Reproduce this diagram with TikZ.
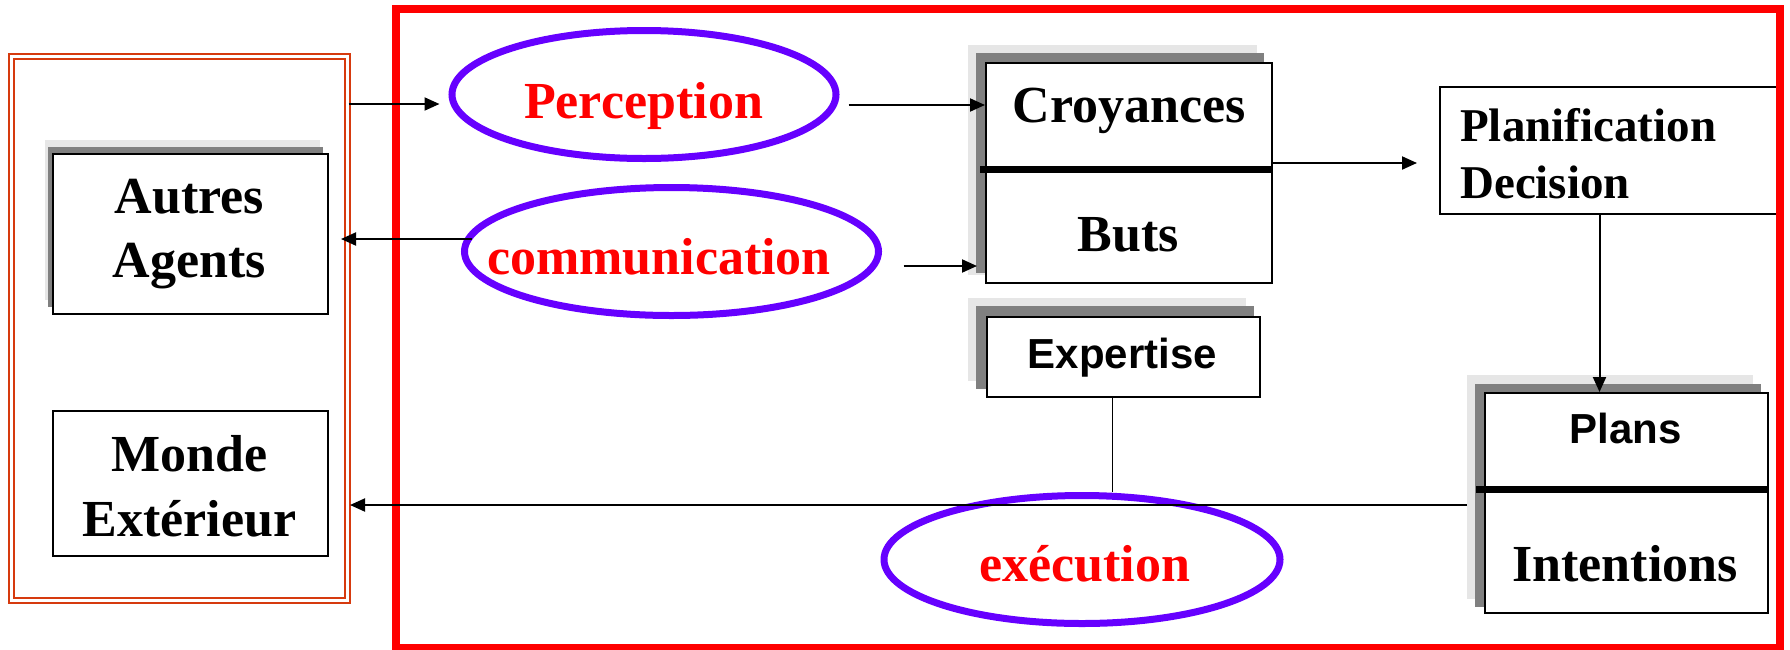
\documentclass[tikz,border=0pt]{standalone}
\usepackage{fontspec}
\setmainfont{Liberation Serif}
\newfontfamily\arialf{Liberation Sans}
\usetikzlibrary{arrows.meta,shapes.geometric,calc}
\definecolor{ovalc}{RGB}{102,0,255}
\definecolor{panelc}{RGB}{214,58,14}
\definecolor{shdark}{RGB}{128,128,128}
\definecolor{shlight}{RGB}{230,230,230}
\begin{document}
\begin{tikzpicture}[x=1pt,y=-1pt,
  box/.style={draw=black, line width=2pt, fill=white, inner sep=0pt, anchor=north west},
  shd/.style={fill=shdark, draw=none},
  shl/.style={fill=shlight, draw=none},
  oval/.style={ellipse, draw=ovalc, line width=7pt, inner sep=0pt},
  arr/.style={line width=2pt, -{Triangle[length=15pt,width=13pt]}},
  divider/.style={line width=7pt},
  redlab/.style={text=red, anchor=base, inner sep=0pt, font=\fontsize{52}{64}\selectfont\bfseries},
  blklab/.style={text=black, anchor=base, inner sep=0pt, font=\fontsize{52}{64}\selectfont\bfseries},
  planlab/.style={text=black, anchor=base west, inner sep=0pt, font=\fontsize{47}{57}\selectfont\bfseries},
  sanslab/.style={text=black, anchor=base, inner sep=0pt, font=\arialf\fontsize{42}{50}\selectfont\bfseries},
]
\useasboundingbox (0,0) rectangle (1790,649);
\fill[white] (0,0) rectangle (1790,649);

% left panel (double border)
\node[draw=panelc, double=white, double distance=3pt, line width=2pt,
      minimum width=336.25pt, minimum height=543.75pt, inner sep=0pt] (panel) at (179.6,328.6) {};

% Autres Agents
\fill[shl] (45,140) rectangle ++(275,160);
\fill[shd] (48,147) rectangle ++(275,160);
\node[box, minimum width=275pt, minimum height=160pt] (autres) at (52,153) {};
\node[blklab] (autresA) at (189.5,213) {Autres};
\node[blklab] (autresB) at (189.5,277) {Agents};

% Monde Exterieur
\node[box, minimum width=275pt, minimum height=145pt] (monde) at (52,410) {};
\node[blklab] (mondeA) at (189.5,471) {Monde};
\node[blklab] (mondeB) at (189.5,536) {Extérieur};

% Croyances / Buts
\fill[shl] (968,45) rectangle (1257,275);
\fill[shd] (976,53) rectangle (1264,273);
\node[box, minimum width=286pt, minimum height=220pt] (cb) at (985,62) {};
\draw[divider] (980,169) -- (1272,169);
\node[blklab] (croy) at (1129,122) {Croyances};
\node[blklab] (buts) at (1128,251) {Buts};

% Expertise
\fill[shl] (968,298) rectangle (1246,381);
\fill[shd] (976,306) rectangle (1254,389);
\node[box, minimum width=273pt, minimum height=80pt] (exp) at (986,316) {};
\node[sanslab] (expT) at (1122.5,368) {Expertise};

% Planification Decision
\node[box, minimum width=341pt, minimum height=127pt] (plan) at (1439,86) {};
\node[planlab] (planA) at (1460,141) {Planification};
\node[planlab] (planB) at (1460,198) {Decision};

% Plans / Intentions
\fill[shl] (1467,375) rectangle (1753,599);
\fill[shd] (1475,384) rectangle (1761,607);
\node[box, minimum width=283pt, minimum height=220pt] (pi) at (1484,392) {};
\draw[divider] (1476,489) -- (1767,489);
\node[sanslab] (plansT) at (1625.5,443) {Plans};
\node[blklab] (intT) at (1625,581) {Intentions};

% ellipses
\node[oval, minimum width=384pt, minimum height=128pt] (perc) at (644,94.5) {};
\node[redlab] (percT) at (643.5,118) {Perception};
\node[oval, minimum width=414pt, minimum height=128pt] (comm) at (671.5,251.5) {};
\node[redlab] (commT) at (659,274) {communication};
\node[oval, minimum width=396pt, minimum height=128pt] (exec) at (1082,559.5) {};
\node[redlab] (execT) at (1084.5,581) {exécution};

% big red frame
\draw[red, line width=8pt] (396,9) rectangle (1780,648);

% connectors
\draw[arr, shorten >=9pt] (panel.east |- 0,104) -- (perc.west |- 0,104);
\draw[arr, shorten <=9pt] (perc.east |- 0,105) -- (cb.west |- 0,105);
\draw[arr, shorten >=12pt] ($(comm.west)+(10.5,-12.5)$) -- (autres.east |- 0,239);
\draw[arr, shorten <=21.5pt, shorten >=8pt] (comm.east |- 0,266) -- (cb.west |- 0,266);
\draw[arr, shorten >=22pt] (cb.east |- 0,163) -- (plan.west |- 0,163);
\draw[arr] (plan.south -| 1599.5,0) -- (pi.north -| 1599.5,0);
\draw[arr, shorten <=17pt, shorten >=21pt] (pi.west |- 0,505) -- (monde.east |- 0,505);
\draw[line width=1.5pt] (exp.south -| 1112.5,0) -- (exec.north -| 1112.5,0);
\end{tikzpicture}
\end{document}
